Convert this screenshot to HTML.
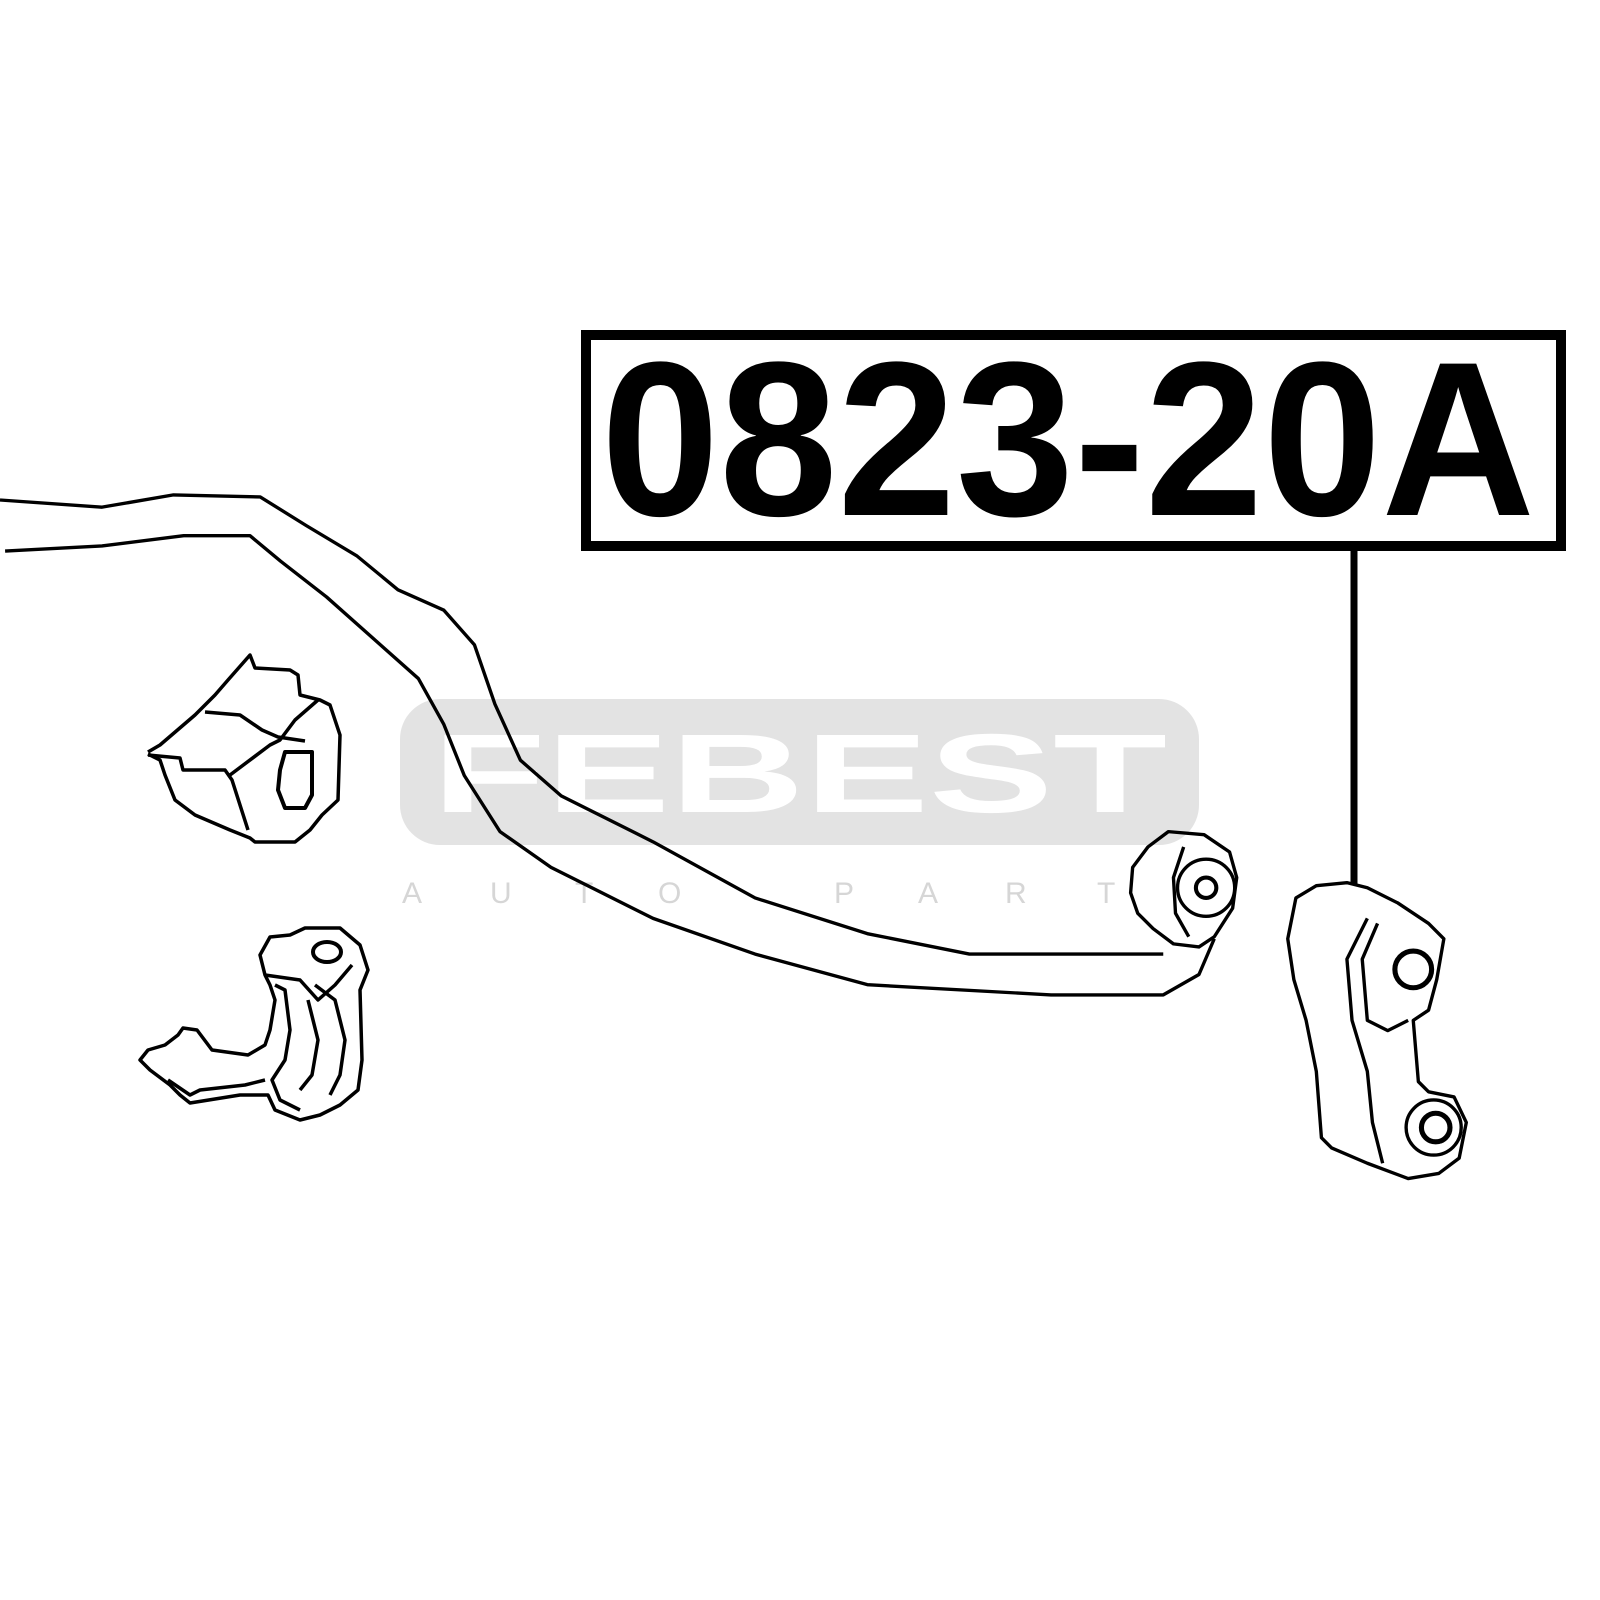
<!DOCTYPE html>
<html><head><meta charset="utf-8"><style>
html,body{margin:0;padding:0;background:#fff;width:1600px;height:1600px;overflow:hidden}
svg{display:block}
</style></head><body>
<svg width="1600" height="1600" viewBox="0 0 1600 1600" xmlns="http://www.w3.org/2000/svg">
<rect width="1600" height="1600" fill="#fff"/>
<!-- watermark -->
<rect x="400" y="699" width="799" height="146" rx="40" fill="#e3e3e3"/>
<text x="432" y="812" font-family="Liberation Sans, sans-serif" font-weight="bold" font-size="112" fill="#fff" textLength="735" lengthAdjust="spacingAndGlyphs">FEBEST</text>
<g font-family="Liberation Sans, sans-serif" font-size="30" fill="#d6d6d6">
<text x="402" y="903">A</text><text x="490" y="903">U</text><text x="575" y="903">T</text><text x="658" y="903">O</text>
<text x="834" y="903">P</text><text x="918" y="903">A</text><text x="1005" y="903">R</text><text x="1097" y="903">T</text>
</g>
<!-- label box -->
<rect x="586" y="335" width="975" height="211" fill="#fff" stroke="#000" stroke-width="10"/>
<text x="601" y="515" font-family="Liberation Sans, sans-serif" font-weight="bold" font-size="220" fill="#000" textLength="934" lengthAdjust="spacingAndGlyphs">0823-20A</text>
<line x1="1354" y1="550" x2="1354" y2="885" stroke="#000" stroke-width="7"/>
<g fill="none" stroke="#000" stroke-width="3.5" stroke-linejoin="round">
<!-- left block -->
<path d="M148,754 L160,760 165,775 175,800 195,815 230,830 250,838 255,842 295,842 310,830 322,815 338,800 340,735 330,705 320,700 300,695 298,675 290,670 255,668 250,655 228,680 215,695 195,715 160,745 148,752"/>
<path d="M148,755 L180,758 183,770 225,770 232,780 240,805 248,830"/>
<path d="M230,775 L270,745 280,740 295,720 318,700"/>
<path d="M205,712 L240,715 262,730 278,737 305,741"/>
<path d="M285,752 L312,752 312,795 305,808 285,808 278,790 280,770 Z" stroke-width="4"/>
<!-- clamp -->
<path d="M265,975 L260,955 270,937 290,935 305,928 340,928 360,945 368,970 360,990 362,1060 358,1090 340,1105 320,1115 300,1120 275,1110 268,1095 240,1095 190,1103 180,1095 170,1085 150,1070 140,1060 148,1050 165,1045 178,1035 183,1028 197,1030 212,1050 248,1055 265,1045 270,1030 275,1000 270,985 Z"/>
<ellipse cx="327" cy="952" rx="14" ry="10" stroke-width="4"/>
<path d="M275,985 L285,990 290,1030 285,1060 272,1080 280,1100 300,1110"/>
<path d="M308,1000 L318,1040 312,1075 300,1090"/>
<path d="M315,985 L335,1000 345,1040 340,1075 330,1095"/>
<path d="M168,1080 L190,1095 200,1090 245,1085 265,1080"/>
<path d="M265,975 L300,980 318,1000 335,985 352,965"/>
</g>
<g transform="scale(1.0204)" fill="none" stroke="#000" stroke-width="3.3" stroke-linejoin="round">
<!-- sway bar -->
<path d="M0,490 L100,497 170,485 255,487 300,515 350,545 390,578 435,598 465,632 485,690 510,745 550,780 640,825 740,880 850,915 950,935 1140,935"/>
<path d="M5,540 L100,535 180,525 245,525 275,550 320,585 365,625 410,665 435,710 455,760 490,815 540,850 640,900 740,935 850,965 1030,975 1140,975 1175,955 1190,920"/>
<path d="M1145,815 L1180,818 1205,835 1212,860 1208,890 1190,918 1175,928 1150,925 1130,910 1115,895 1108,875 1110,850 1125,830 Z"/>
<path d="M1160,830 L1150,860 1152,895 1165,918"/>
<circle cx="1182" cy="870" r="28"/>
<circle cx="1182" cy="870" r="10" stroke-width="4"/>
<!-- link -->
<path d="M1290,868 L1270,880 1262,920 1268,960 1280,1000 1290,1050 1295,1115 1305,1125 1340,1140 1380,1155 1410,1150 1430,1135 1437,1100 1425,1075 1400,1070 1390,1060 1385,1000 1400,990 1408,960 1415,920 1400,905 1370,885 1340,870 1320,865 Z"/>
<path d="M1340,900 L1320,940 1325,1000 1340,1050 1345,1100 1355,1140"/>
<path d="M1350,905 L1335,940 1340,1000 1360,1010 1380,1000"/>
<circle cx="1385" cy="950" r="18" stroke-width="5"/>
<circle cx="1405" cy="1105" r="27"/>
<circle cx="1407" cy="1105" r="14" stroke-width="5"/>
</g>
</svg>
</body></html>
